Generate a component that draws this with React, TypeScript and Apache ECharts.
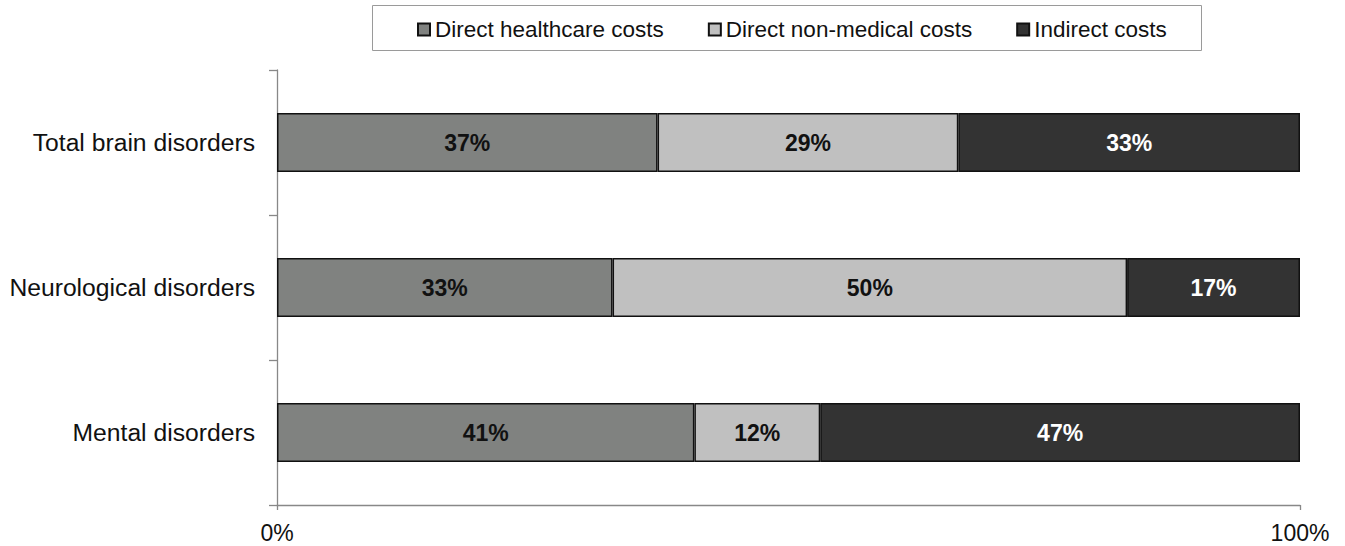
import React, { useEffect, useRef } from "react";
import * as echarts from "echarts";

const categories = ["Mental disorders", "Neurological disorders", "Total brain disorders"];
const seriesNames = ["Direct healthcare costs", "Direct non-medical costs", "Indirect costs"];
const directHealthcare = [40.8, 32.8, 37.2];
const directNonMedical = [12.3, 50.3, 29.4];
const indirect = [46.9, 16.9, 33.4];
const xTickLabels = ["0%", "100%"];

const colors = ["#808280", "#c0c0c0", "#333333"];
const labelColors = ["#111111", "#111111", "#ffffff"];
const FONT = "'Liberation Sans', Arial, sans-serif";

export default function App() {
  const ref = useRef<HTMLDivElement>(null);
  useEffect(() => {
    if (!ref.current) return;
    const chart = echarts.init(ref.current, null, { renderer: "svg" });
    const data = [directHealthcare, directNonMedical, indirect];
    chart.setOption({
      animation: false,
      textStyle: { fontFamily: FONT },
      graphic: [
        {
          type: "rect",
          shape: { x: 372.5, y: 5.5, width: 829, height: 45 },
          style: { fill: "#ffffff", stroke: "#9a9a9a", lineWidth: 1 },
          z: 0,
        },
      ],
      legend: {
        left: 417,
        top: 18,
        padding: 0,
        itemWidth: 12,
        itemHeight: 12,
        itemGap: 44,
        icon: "rect",
        textStyle: { fontSize: 22.5, color: "#111", fontFamily: FONT },
        data: seriesNames,
        z: 5,
      },
      grid: { left: 277, right: 45, top: 70, bottom: 41, containLabel: false },
      xAxis: {
        type: "value",
        min: 0,
        max: 100,
        interval: 100,
        axisLine: { show: true, lineStyle: { color: "#888", width: 1.3 } },
        axisTick: { show: true, length: 5, lineStyle: { color: "#888", width: 1.3 } },
        splitLine: { show: false },
        axisLabel: {
          fontSize: 23,
          color: "#111",
          margin: 16,
          fontFamily: FONT,
          formatter: (v: number) => (v === 0 ? xTickLabels[0] : xTickLabels[1]),
        },
      },
      yAxis: {
        type: "category",
        data: categories,
        axisLine: { show: true, lineStyle: { color: "#888", width: 1.3 } },
        axisTick: { show: true, length: 8, alignWithLabel: false, lineStyle: { color: "#888", width: 1.3 } },
        axisLabel: { fontSize: 24.7, color: "#111", margin: 22, fontFamily: FONT },
      },
      series: seriesNames.map((name, i) => ({
        name,
        type: "bar",
        stack: "total",
        barWidth: 59,
        data: data[i],
        itemStyle: { color: colors[i], borderColor: "#111", borderWidth: 1.5 },
        label: {
          show: true,
          position: "inside",
          fontSize: 23,
          fontWeight: "bold",
          color: labelColors[i],
          fontFamily: FONT,
          formatter: (p: any) => Math.round(p.value) + "%",
        },
      })),
    });
    return () => chart.dispose();
  }, []);
  return (
    <div
      ref={ref}
      style={{ position: "absolute", left: 0, top: 0, width: 1345, height: 546, background: "#fff" }}
    />
  );
}
